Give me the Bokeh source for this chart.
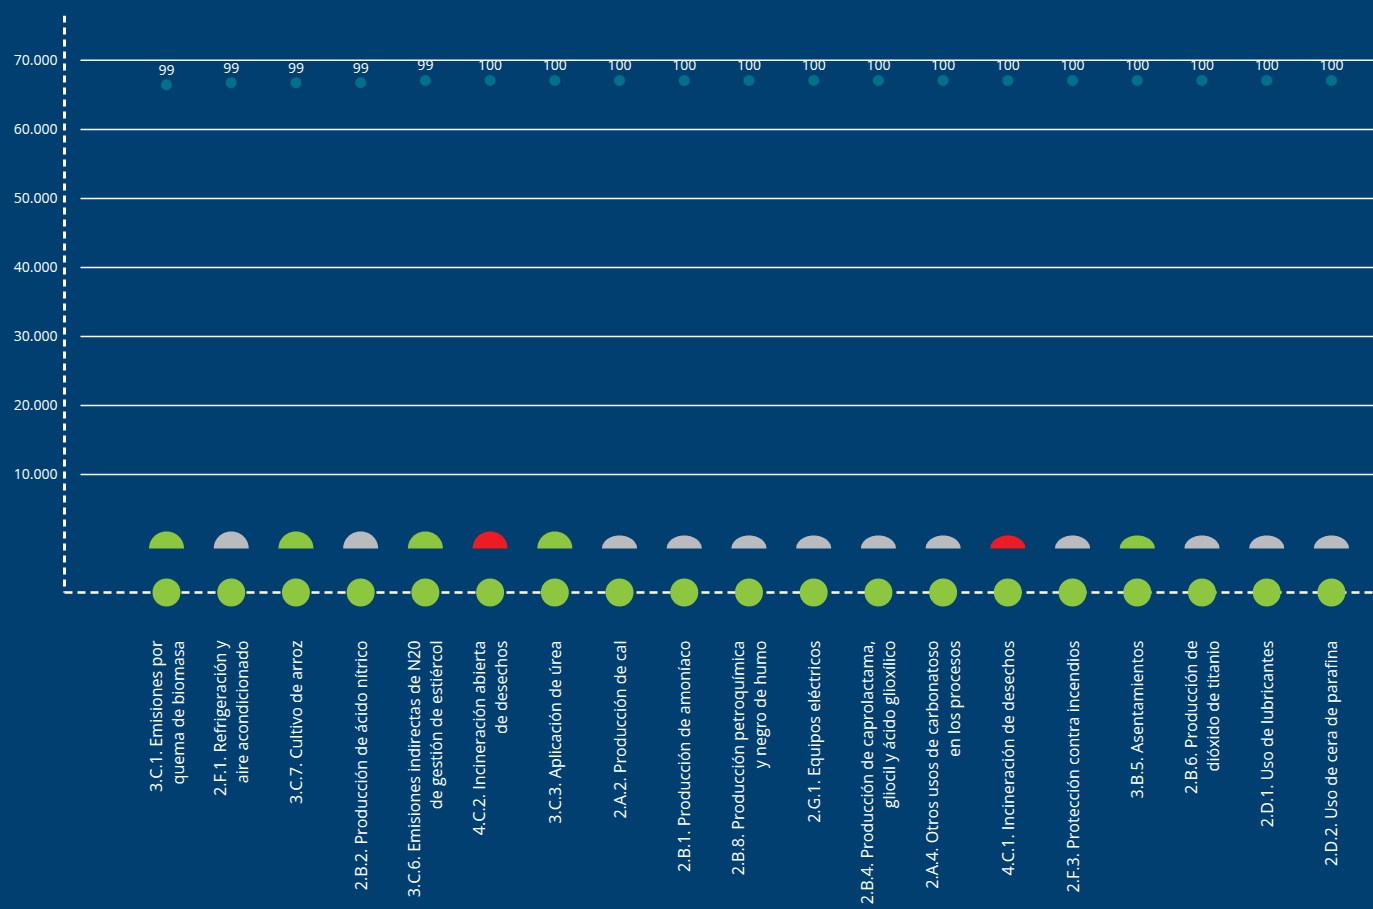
import numpy as np
from bokeh.plotting import figure
from bokeh.models import FixedTicker, ColumnDataSource
from bokeh.core.properties import value
from bokeh.embed import file_html
from bokeh.resources import INLINE

# ---------------- data ----------------
codes = ["3.C.1", "2.F.1", "3.C.7", "2.B.2", "3.C.6", "4.C.2", "3.C.3", "2.A.2", "2.B.1",
         "2.B.8", "2.G.1", "2.B.4", "2.A.4", "4.C.1", "2.F.3", "3.B.5", "2.B.6", "2.D.1", "2.D.2"]
labels = [
    "3.C.1. Emisiones por\nquema de biomasa",
    "2.F.1. Refrigeración y\naire acondicionado",
    "3.C.7. Cultivo de arroz",
    "2.B.2. Producción de ácido nítrico",
    "3.C.6. Emisiones indirectas de N20\nde gestión de estiércol",
    "4.C.2. Incineración abierta\nde desechos",
    "3.C.3. Aplicación de úrea",
    "2.A.2. Producción de cal",
    "2.B.1. Producción de amoníaco",
    "2.B.8. Producción petroquímica\ny negro de humo",
    "2.G.1. Equipos eléctricos",
    "2.B.4. Producción de caprolactama,\ngliocil y ácido glioxílico",
    "2.A.4. Otros usos de carbonatoso\nen los procesos",
    "4.C.1. Incineración de desechos",
    "2.F.3. Protección contra incendios",
    "3.B.5. Asentamientos",
    "2.B.6. Producción de\ndióxido de titanio",
    "2.D.1. Uso de lubricantes",
    "2.D.2. Uso de cera de parafina",
]
cumulative = [66480, 66770, 66770, 66770, 67100, 67100, 67100, 67100, 67100, 67100,
              67100, 67100, 67100, 67100, 67100, 67100, 67100, 67100, 67100]
cum_pct = ["99", "99", "99", "99", "99", "100", "100", "100", "100", "100",
           "100", "100", "100", "100", "100", "100", "100", "100", "100"]
y_ticks = [10000, 20000, 30000, 40000, 50000, 60000, 70000]
y_tick_labels = ["10.000", "20.000", "30.000", "40.000", "50.000", "60.000", "70.000"]
axis_base = -7100   # value where the dashed baseline sits

# ---------------- style ----------------
BG = "#003f70"
GREEN = "#8dc63f"
GRAY = "#b9bbbe"
RED = "#ed1c24"
TEAL = "#00708b"
sector_color = {"2": GRAY, "3": GREEN, "4": RED}
FONT = "Open Sans"

n = len(codes)
xs = np.arange(n)
colors = [sector_color[c[0]] for c in codes]
dome_h_px = [17 if i < 7 else 13 for i in range(n)]

W, H = 1373, 909
LEFT, TOP, BOTTOM = 62, 15, 297
Y0, Y1 = -10000, 76500
X0, X1 = -1.607, 18.65
px_x = (W - LEFT) / (X1 - X0)            # pixels per x unit
px_y = (H - TOP - BOTTOM) / (Y1 - Y0)    # pixels per y unit

p = figure(width=W, height=H, x_range=(X0, X1), y_range=(Y0, Y1),
           output_backend="svg", toolbar_location=None,
           background_fill_color=None, border_fill_color=None,
           min_border_left=LEFT, min_border_top=TOP, min_border_bottom=BOTTOM,
           min_border_right=0)
p.styles = {"background-color": BG}
p.outline_line_color = None
p.grid.visible = False

# gridlines (start slightly right of the axis)
g_x0 = X0 + 18 / px_x
p.segment(x0=[g_x0] * len(y_ticks), x1=[X1] * len(y_ticks), y0=y_ticks, y1=y_ticks,
          line_color="white", line_width=1.5)

# dashed axis lines
ax_x = X0 + 2 / px_x
p.segment(x0=[ax_x], x1=[ax_x], y0=[Y1], y1=[axis_base],
          line_color="white", line_width=3, line_dash="7 5")
p.segment(x0=[ax_x], x1=[X1], y0=[axis_base], y1=[axis_base],
          line_color="white", line_width=2.5, line_dash="8 5")

# axes (labels only)
xa = p.xaxis[0]
xa.ticker = FixedTicker(ticks=list(xs))
xa.major_label_overrides = {int(i): lab for i, lab in zip(xs, labels)}
xa.major_label_orientation = np.pi / 2
xa.major_label_standoff = 28
xa.major_label_text_color = "white"
xa.major_label_text_font = FONT
xa.major_label_text_font_size = "16.1px"
xa.major_label_text_line_height = 1.0
xa.major_tick_line_color = None
xa.major_tick_out = 0
xa.major_tick_in = 0
xa.minor_tick_line_color = None
xa.axis_line_color = None

ya = p.yaxis[0]
ya.ticker = FixedTicker(ticks=y_ticks)
ya.major_label_overrides = {t: l for t, l in zip(y_ticks, y_tick_labels)}
ya.major_label_standoff = 5
ya.major_label_text_color = "white"
ya.major_label_text_font = FONT
ya.major_label_text_font_size = "14px"
ya.major_tick_line_color = None
ya.major_tick_out = 0
ya.major_tick_in = 0
ya.minor_tick_line_color = None
ya.axis_line_color = None

# domes (half ellipses) sitting just below zero
base = -5 / px_y
t = np.linspace(0, np.pi, 40)
dx, dy = [], []
for i in range(n):
    dx.append(list(xs[i] + (17.5 / px_x) * np.cos(t)))
    dy.append(list(base + (dome_h_px[i] / px_y) * np.sin(t)))
p.patches(xs=dx, ys=dy, fill_color=colors, line_color=None)

# green circles on the baseline
p.scatter(x=xs, y=[axis_base] * n, size=28, fill_color=GREEN, line_color=None)

# cumulative dots and labels
src = ColumnDataSource(dict(x=xs, y=cumulative, t=cum_pct))
p.scatter("x", "y", source=src, size=11, fill_color=TEAL, line_color=None)
p.text("x", "y", text="t", source=src, text_align="center", text_baseline="alphabetic",
       y_offset=-15, text_color="white", text_font=value(FONT), text_font_size="14px")

open("out.html", "w").write(file_html(p, INLINE))
